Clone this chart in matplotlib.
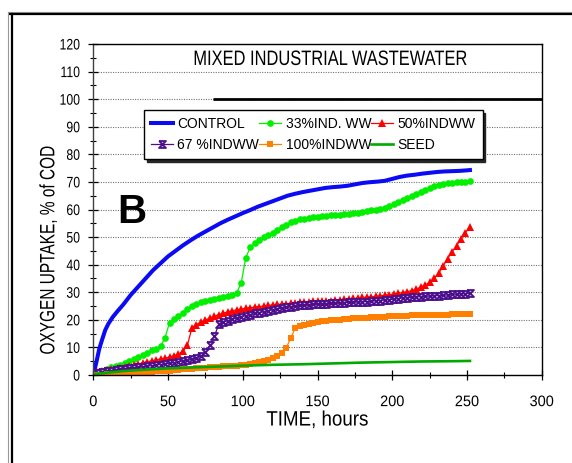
import matplotlib
matplotlib.use("Agg")
import matplotlib.pyplot as plt
from matplotlib.lines import Line2D
from matplotlib.ticker import MultipleLocator
from matplotlib.patheffects import AbstractPathEffect
from matplotlib.transforms import Affine2D

# ---------------- data ----------------
hours = [0, 3, 6, 9, 12, 15, 18, 21, 24, 27, 30, 33, 36, 39, 42, 45, 48, 51, 54, 57,
         60, 63, 66, 69, 72, 75, 78, 81, 84, 87, 90, 93, 96, 99, 102, 105, 108, 111, 114, 117,
         120, 123, 126, 129, 132, 135, 138, 141, 144, 147, 150, 153, 156, 159, 162, 165, 168, 171, 174, 177,
         180, 183, 186, 189, 192, 195, 198, 201, 204, 207, 210, 213, 216, 219, 222, 225, 228, 231, 234, 237,
         240, 243, 246, 249, 252]

ind33 = [0.5, 1.0, 1.5, 2.2, 2.8, 3.3, 3.8, 4.3, 5.0, 5.8,
         6.5, 7.2, 8.0, 9.0, 9.6, 10.4, 13.5, 19.0, 20.3, 21.5,
         22.6, 23.8, 25.0, 25.8, 26.5, 26.9, 27.3, 27.6, 27.9, 28.2,
         28.6, 29.0, 29.8, 33.5, 42.5, 46.3, 47.8, 49.0, 50.0, 50.8,
         51.6, 52.5, 53.5, 54.5, 55.3, 56.0, 56.4, 56.7, 57.0, 57.2,
         57.4, 57.6, 57.8, 57.9, 58.0, 58.1, 58.2, 58.3, 58.6, 58.9,
         59.2, 59.5, 59.8, 60.0, 60.1, 60.4, 61.2, 62.0, 62.8, 63.6,
         64.3, 65.0, 65.8, 66.5, 67.2, 67.8, 68.5, 69.0, 69.3, 69.5,
         69.7, 69.9, 70.0, 70.1, 70.2]

ind50 = [0.8, 1.0, 1.3, 1.7, 2.0, 2.3, 2.6, 3.0, 3.3, 3.7,
         4.0, 4.4, 4.8, 5.1, 5.5, 5.8, 6.1, 6.5, 7.0, 7.6,
         8.6, 10.8, 17.2, 18.3, 19.2, 19.9, 20.7, 21.3, 21.9, 22.4,
         22.9, 23.3, 23.6, 23.9, 24.2, 24.4, 24.6, 24.8, 25.0, 25.2,
         25.4, 25.6, 25.7, 25.9, 26.0, 26.2, 26.3, 26.5, 26.6, 26.7,
         26.8, 26.9, 26.9, 27.0, 27.2, 27.3, 27.5, 27.6, 27.8, 27.9,
         28.1, 28.2, 28.4, 28.5, 28.7, 28.9, 29.1, 29.4, 29.6, 29.9,
         30.2, 30.6, 31.2, 31.8, 32.6, 33.6, 35.0, 36.8, 39.4, 42.2,
         44.6, 46.8, 49.4, 51.6, 53.8]

ind67 = [0.6, 0.9, 1.2, 1.4, 1.6, 1.8, 2.0, 2.2, 2.4, 2.6,
         2.8, 3.0, 3.2, 3.4, 3.6, 3.8, 4.0, 4.2, 4.5, 4.8,
         5.1, 5.3, 5.7, 6.2, 6.9, 8.3, 10.8, 14.0, 18.5, 19.2,
         19.7, 20.2, 20.7, 21.1, 21.5, 21.9, 22.3, 22.6, 22.9, 23.3,
         23.6, 23.9, 24.2, 24.5, 24.8, 25.0, 25.2, 25.4, 25.5, 25.6,
         25.7, 25.8, 25.9, 26.0, 26.1, 26.2, 26.2, 26.3, 26.4, 26.4,
         26.5, 26.6, 26.7, 26.9, 27.0, 27.2, 27.3, 27.5, 27.7, 27.9,
         28.0, 28.1, 28.3, 28.4, 28.5, 28.6, 28.7, 28.8, 28.9, 29.0,
         29.2, 29.3, 29.4, 29.5, 29.6]

ind100 = [0.0, 0.0, 0.1, 0.2, 0.3, 0.4, 0.5, 0.6, 0.7, 0.8,
          0.9, 1.0, 1.1, 1.2, 1.3, 1.4, 1.5, 1.6, 1.8, 1.9,
          2.0, 2.2, 2.3, 2.5, 2.6, 2.7, 2.8, 2.9, 3.0, 3.1,
          3.2, 3.3, 3.4, 3.6, 3.8, 4.0, 4.3, 4.6, 5.0, 5.5,
          6.1, 6.8, 7.9, 9.7, 13.3, 16.9, 17.6, 18.0, 18.4, 18.8,
          19.2, 19.4, 19.6, 19.8, 20.0, 20.1, 20.3, 20.4, 20.5, 20.6,
          20.7, 20.8, 20.9, 21.0, 21.1, 21.2, 21.3, 21.3, 21.4, 21.5,
          21.5, 21.6, 21.6, 21.7, 21.7, 21.8, 21.8, 21.9, 21.9, 21.9,
          22.0, 22.0, 22.0, 22.0, 22.0]

control_hours = [0, 2, 4, 6, 8, 10, 13, 16, 20, 25, 30, 35, 40, 45, 50, 55, 60, 65, 70, 75,
                 80, 85, 90, 95, 100, 105, 110, 115, 120, 125, 130, 135, 140, 145, 150, 155, 160, 165, 170, 175,
                 180, 185, 190, 195, 200, 205, 210, 215, 220, 225, 230, 235, 240, 245, 250, 252]
control = [0, 4.5, 9.5, 13.0, 16.3, 18.5, 21.0, 23.0, 25.5, 29.0, 32.0, 35.0, 38.0, 40.5, 43.0, 45.0, 47.0, 48.8, 50.5, 52.0,
           53.5, 55.0, 56.3, 57.5, 58.7, 59.8, 61.0, 62.0, 63.0, 64.0, 65.0, 65.7, 66.3, 66.8, 67.3, 67.8, 68.1, 68.3, 68.6, 69.1,
           69.6, 69.9, 70.1, 70.4, 71.1, 71.8, 72.3, 72.6, 73.0, 73.3, 73.6, 73.8, 73.9, 74.0, 74.2, 74.3]

seed_hours = [0, 10, 20, 30, 40, 50, 60, 70, 80, 90, 100, 120, 140, 160, 180, 200, 220, 240, 252]
seed = [0.3, 0.9, 1.4, 1.8, 2.1, 2.4, 2.6, 2.8, 3.0, 3.2, 3.4, 3.7, 3.9, 4.2, 4.5, 4.7, 4.9, 5.0, 5.1]

labels = ["CONTROL", "33%IND. WW", "50%INDWW", "67 %INDWW", "100%INDWW", "SEED"]
title_text = "MIXED INDUSTRIAL WASTEWATER"
ref_level = 100
ref_start = 80

plt.rcParams["font.family"] = ["Liberation Sans", "DejaVu Sans"]


class Squeeze(AbstractPathEffect):
    """Horizontally condense glyph outlines (the reference uses a narrow font)."""

    def __init__(self, sx, anchor="center"):
        super().__init__()
        self.sx = sx
        self.anchor = anchor

    def draw_path(self, renderer, gc, tpath, affine, rgbFace=None):
        ext = tpath.get_extents()
        if self.anchor == "left":
            cx = ext.x0
        elif self.anchor == "right":
            cx = ext.x1
        else:
            cx = 0.5 * (ext.x0 + ext.x1)
        t = Affine2D().translate(-cx, 0).scale(self.sx, 1).translate(cx, 0)
        renderer.draw_path(gc, tpath, t + affine, rgbFace)


fig = plt.figure(figsize=(5.72, 4.63), dpi=100)
ax = fig.add_axes([93.3 / 572, 88 / 463, 448.4 / 572, 331 / 463])

# outer frame
fig.add_artist(Line2D([8 / 572, 1.0], [1 - 12 / 463] * 2, color="0.6", lw=0.8))
fig.add_artist(Line2D([10 / 572, 1.0], [1 - 14 / 463] * 2, color="black", lw=1.6))
fig.add_artist(Line2D([8 / 572] * 2, [0, 1 - 12 / 463], color="0.6", lw=0.8))
fig.add_artist(Line2D([11.5 / 572] * 2, [0, 1 - 14 / 463], color="black", lw=1.6))

hourglass = [(-1, 1), (1, 1), (-1, -1), (1, -1), (-1, 1)]

h_ctrl, = ax.plot(control_hours, control, color="#0A0AF5", lw=2.9, label=labels[0])
h33, = ax.plot(hours, ind33, color="#00F000", lw=0.9, marker="o", ms=4.8,
               markeredgewidth=0, label=labels[1])
h50, = ax.plot(hours, ind50, color="#FF0000", lw=0.9, marker="^", ms=5.2,
               markeredgewidth=0, label=labels[2])
h67, = ax.plot(hours, ind67, color="#4B0F8C", lw=0.9, marker=hourglass, ms=5.0,
               markerfacecolor="#C4B2E4", markeredgecolor="#4B0F8C", markeredgewidth=1.3,
               label=labels[3])
h100, = ax.plot(hours, ind100, color="#FF8000", lw=0.9, marker="s", ms=5.0,
                markeredgewidth=0, label=labels[4])
hseed, = ax.plot(seed_hours, seed, color="#00AA00", lw=1.9, label=labels[5])

ax.hlines(ref_level, ref_start, 300, color="black", lw=2.0, zorder=3)

ax.set_xlim(0, 300)
ax.set_ylim(0, 120)
ax.xaxis.set_major_locator(MultipleLocator(50))
ax.xaxis.set_minor_locator(MultipleLocator(25))
ax.yaxis.set_major_locator(MultipleLocator(10))
ax.yaxis.set_minor_locator(MultipleLocator(5))
ax.tick_params(axis="both", which="major", direction="inout", length=7, width=0.9)
ax.tick_params(axis="both", which="minor", direction="inout", length=4.5, width=0.8)
ax.tick_params(axis="x", which="major", labelsize=11, pad=11)
ax.tick_params(axis="y", which="major", labelsize=11, pad=6)
ax.yaxis.grid(True, which="major", color="0.45", lw=0.8, linestyle=(0, (1, 1.2)))
ax.set_axisbelow(True)
for s in ax.spines.values():
    s.set_linewidth(1.0)
ax.spines["left"].set_color("0.25")

for lab in ax.get_xticklabels():
    lab.set_path_effects([Squeeze(0.95, "center")])
for lab in ax.get_yticklabels():
    lab.set_path_effects([Squeeze(0.8, "right")])

xl = ax.set_xlabel("TIME, hours", fontsize=15, labelpad=1)
xl.set_path_effects([Squeeze(0.9, "center")])
yl = ax.set_ylabel("OXYGEN UPTAKE, % of COD", fontsize=15)
yl.set_path_effects([Squeeze(0.74, "center")])
ax.yaxis.set_label_coords(-0.078, 0.378)

tt = ax.text(159, 112.4, title_text, fontsize=15, ha="center", va="baseline")
tt.set_path_effects([Squeeze(0.79, "center")])
ax.text(25.7, 59.2, "B", fontsize=29, fontweight="bold", ha="center", va="center")

handles = [h_ctrl, h67, h33, h100, h50, hseed]
leg = ax.legend(handles, [h.get_label() for h in handles], ncol=3, loc="upper left",
                bbox_to_anchor=(0.113, 0.80), fontsize=10, frameon=True, fancybox=False,
                edgecolor="black", framealpha=1, shadow={"color": "0.15", "alpha": 1},
                handlelength=1.6, handletextpad=0.3, columnspacing=0.0,
                labelspacing=0.5, borderpad=0.5, borderaxespad=0)
leg.get_frame().set_linewidth(1.0)

fig.savefig("out.png", dpi=100)
